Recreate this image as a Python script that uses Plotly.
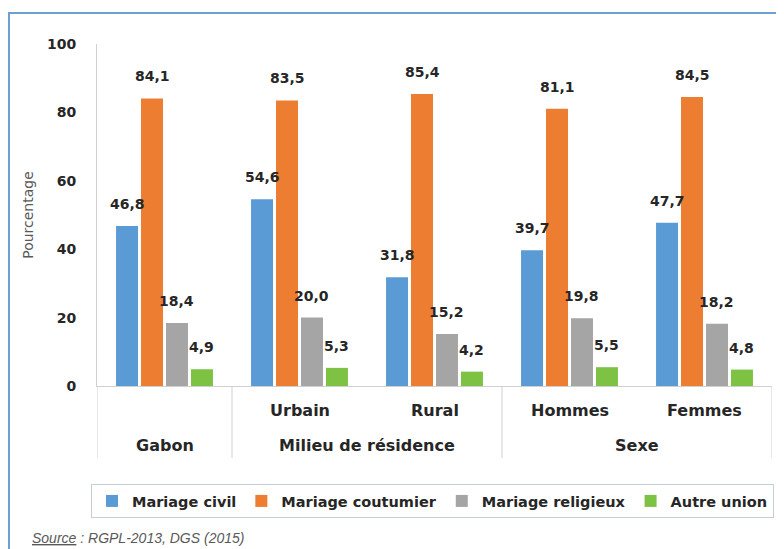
import plotly.graph_objects as go

# ---- data ----
groups = ["Gabon", "Milieu de résidence", "Sexe"]
group_sizes = [1, 2, 2]
categories = ["", "Urbain", "Rural", "Hommes", "Femmes"]
series_names = ["Mariage civil", "Mariage coutumier", "Mariage religieux", "Autre union"]
mariage_civil = [46.8, 54.6, 31.8, 39.7, 47.7]
mariage_coutumier = [84.1, 83.5, 85.4, 81.1, 84.5]
mariage_religieux = [18.4, 20.0, 15.2, 19.8, 18.2]
autre_union = [4.9, 5.3, 4.2, 5.5, 4.8]
y_ticks = [0, 20, 40, 60, 80, 100]
source_text = "<i><u>Source</u> : RGPL-2013, DGS (2015)</i>"

series_values = [mariage_civil, mariage_coutumier, mariage_religieux, autre_union]
colors = ["#5B9BD5", "#ED7D31", "#A5A5A5", "#7DC242"]

BOLD = "DejaVu Sans"
TXT = "#262626"
BARGAP = 0.26
BARGROUPGAP = 0.12

x_idx = list(range(len(categories)))
n_series = len(series_names)
slot = (1 - BARGAP) / n_series

fig = go.Figure()
annotations = []
for k, (name, vals, col) in enumerate(zip(series_names, series_values, colors)):
    fig.add_trace(go.Bar(
        x=x_idx, y=vals, name=name, marker=dict(color=col, line=dict(width=0)),
        hoverinfo="skip",
    ))
    off = (k - (n_series - 1) / 2) * slot
    for i, v in zip(x_idx, vals):
        annotations.append(dict(
            x=i + off, y=v, xref="x", yref="y",
            text="<b>%s</b>" % ("%.1f" % v).replace(".", ","),
            showarrow=False, yanchor="middle", yshift=22,
            font=dict(family=BOLD, size=14, color=TXT)))

shapes = []
# outer frame
shapes.append(dict(type="rect", xref="paper", yref="paper",
                   x0=(9 - 97) / 675, x1=1.06, y0=-0.65, y1=(386 - 13) / 342,
                   line=dict(color="#6E9FD4", width=2), fillcolor="rgba(0,0,0,0)", layer="below"))
# group dividers
div_bottom = -(458 - 386) / 342
pos = -0.5
bounds = [pos]
for s in group_sizes:
    pos += s
    bounds.append(pos)
for b in bounds:
    shapes.append(dict(type="line", xref="x", yref="paper", x0=b, x1=b, y0=0, y1=div_bottom,
                       line=dict(color="#D0D0D0", width=1)))

for i, c in enumerate(categories):
    if c:
        annotations.append(dict(x=i, y=0, xref="x", yref="paper", text="<b>%s</b>" % c,
                                showarrow=False, yanchor="middle", yshift=-24,
                                font=dict(family=BOLD, size=16, color=TXT)))
start = 0
for g, s in zip(groups, group_sizes):
    center = start + (s - 1) / 2
    annotations.append(dict(x=center, y=0, xref="x", yref="paper", text="<b>%s</b>" % g,
                            showarrow=False, yanchor="middle", yshift=-59,
                            font=dict(family=BOLD, size=16, color=TXT)))
    start += s
annotations.append(dict(x=(30 - 97) / 675, y=0, xref="paper", yref="paper", text=source_text,
                        showarrow=False, xanchor="left", yanchor="middle", yshift=-152,
                        font=dict(family="Liberation Sans", size=14, color="#595959")))

fig.update_layout(
    width=776, height=541,
    margin=dict(l=89, r=12, t=36, b=163),
    paper_bgcolor="white", plot_bgcolor="white",
    separators=", ",
    barmode="group", bargap=BARGAP, bargroupgap=BARGROUPGAP,
    xaxis=dict(range=[-0.5, 4.5], showticklabels=False, showgrid=False, zeroline=False,
               showline=True, linecolor="#D0D0D0", linewidth=1, fixedrange=True),
    yaxis=dict(range=[0, 100], tickvals=y_ticks, showgrid=False, zeroline=False,
               showline=True, linecolor="#D0D0D0", linewidth=1, ticks="",
               ticklabelstandoff=17,
               tickfont=dict(family=BOLD, size=14, color=TXT, weight="bold"),
               title=dict(text="Pourcentage", standoff=10,
                          font=dict(family="DejaVu Sans", size=14, color="#595959")),
               automargin=False, fixedrange=True),
    legend=dict(orientation="h", x=(91 - 97) / 675, xanchor="left",
                y=(386 - 484) / 342, yanchor="top",
                bordercolor="#C5CED8", borderwidth=1, bgcolor="white",
                font=dict(family=BOLD, size=14.5, color=TXT, weight="bold"),
                traceorder="normal"),
    shapes=shapes, annotations=annotations,
    showlegend=True,
)

fig.write_html("out.html")
